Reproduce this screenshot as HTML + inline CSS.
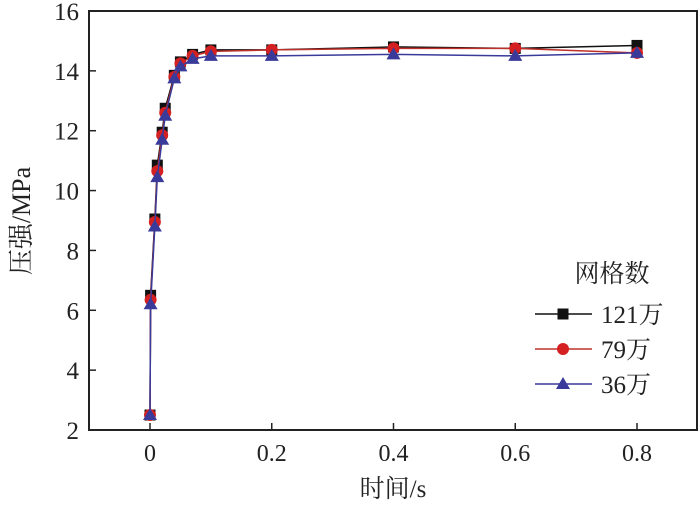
<!DOCTYPE html>
<html><head><meta charset="utf-8"><style>
body{margin:0;background:#fff;}
svg text{font-family:"Liberation Serif","Noto Serif CJK SC",serif;fill:#222;}
</style></head><body>
<svg id="chart" width="700" height="502">
<g id="axes"></g><g id="plot"></g><g id="legend"></g>
</svg>
<script>
const xValues=[0,0.001,0.008,0.012,0.02,0.025,0.04,0.05,0.07,0.1,0.2,0.4,0.6,0.8];
const series121=[2.5,6.5,9.05,10.85,11.95,12.75,13.85,14.3,14.55,14.7,14.7,14.8,14.75,14.85];
const series79=[2.5,6.35,8.95,10.65,11.85,12.6,13.8,14.25,14.5,14.65,14.7,14.75,14.75,14.6];
const series36=[2.5,6.2,8.8,10.45,11.7,12.5,13.75,14.15,14.4,14.5,14.5,14.55,14.5,14.6];
const xTicks=[0,0.2,0.4,0.6,0.8];
const xTickLabels=["0","0.2","0.4","0.6","0.8"];
const yTicks=[2,4,6,8,10,12,14,16];
const seriesNames=["121万","79万","36万"];
const NS="http://www.w3.org/2000/svg";
const L=89,R=697,T=11,B=430;
const sx=v=>150+v*(637-150)/0.8;
const sy=v=>B-(v-2)*(B-T)/14;
function el(tag,attrs,parent,txt){const e=document.createElementNS(NS,tag);for(const k in attrs)e.setAttribute(k,attrs[k]);if(txt!==undefined)e.textContent=txt;parent.appendChild(e);return e;}
const axes=document.getElementById('axes'),plot=document.getElementById('plot'),leg=document.getElementById('legend');
const frame=el('rect',{x:L,y:T,width:R-L,height:B-T,fill:'none',stroke:'#222','stroke-width':2},axes);

xTicks.forEach((v,i)=>{const x=sx(v);
 const t=el('line',{x1:x,x2:x,y1:B,y2:B-7,stroke:'#222','stroke-width':1.5},axes);
 
 const tx=el('text',{x:x,y:B+31,'font-size':24,'text-anchor':'middle'},axes,xTickLabels[i]);
 });
yTicks.forEach(v=>{const y=sy(v);
 const t=el('line',{x1:L,x2:L+7,y1:y,y2:y,stroke:'#222','stroke-width':1.5},axes);
 
 const tx=el('text',{x:L-10,y:y+9,'font-size':25,'text-anchor':'end'},axes,String(v));
 });
const xt=el('text',{x:393,y:497,'font-size':25,'text-anchor':'middle'},axes,'时间/s');

const yt=el('text',{x:0,y:0,'font-size':26,'text-anchor':'middle',transform:'translate(30,221) rotate(-90)'},axes,'压强/MPa');

const colors=['#111','#d42020','#3a3a9a'],lineColors=['#111','#c0302a','#3a3a9a'];
function marker(g,type,x,y,c){let m;
 if(type==0)m=el('rect',{x:x-5.5,y:y-5.5,width:11,height:11,fill:c},g);
 else if(type==1)m=el('circle',{cx:x,cy:y,r:6,fill:c},g);
 else m=el('polygon',{points:`${x},${y-7} ${x-7},${y+5} ${x+7},${y+5}`,fill:c},g);
 }
[series121,series79,series36].forEach((s,k)=>{
 const g=el('g',{},plot);
 const pl=el('polyline',{points:s.map((v,i)=>sx(xValues[i])+','+sy(v)).join(' '),fill:'none',stroke:lineColors[k],'stroke-width':1.5},g);
 
 s.forEach((v,i)=>marker(g,k,sx(xValues[i]),sy(v),colors[k]));});
const lt=el('text',{x:612,y:282,'font-size':25,'text-anchor':'middle'},leg,'网格数');

seriesNames.forEach((n,k)=>{const y=314+k*35;
 const g=el('g',{},leg);
 const ln=el('line',{x1:535,x2:592,y1:y,y2:y,stroke:lineColors[k],'stroke-width':1.5},g);
 
 marker(g,k,563,y,colors[k]);
 const t=el('text',{x:601,y:y+9,'font-size':25},g,n);
 });
</script>
</body></html>
